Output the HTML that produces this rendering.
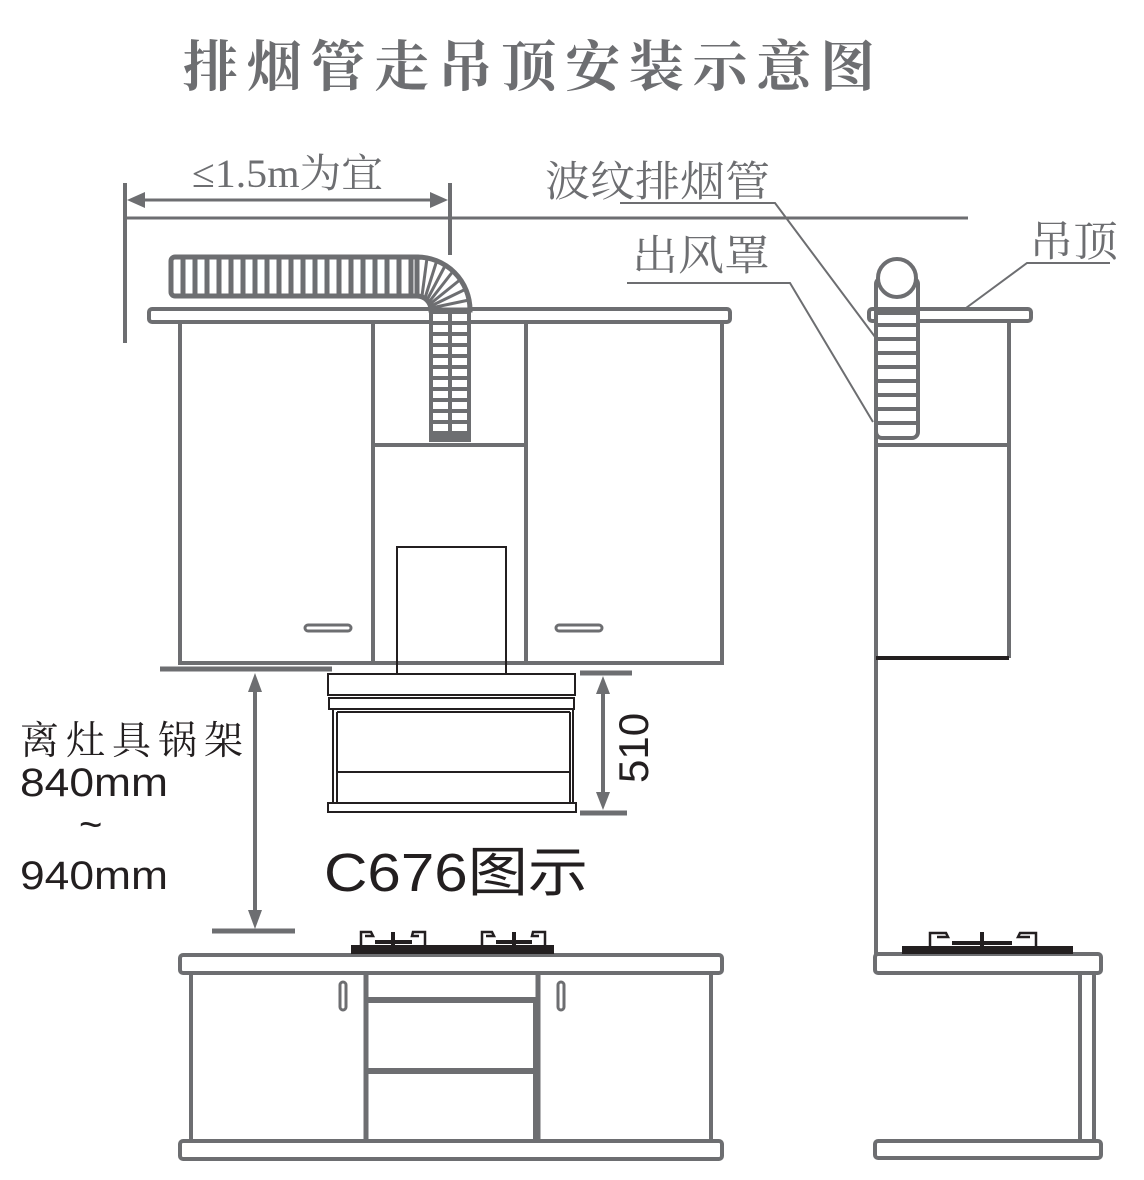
<!DOCTYPE html>
<html><head><meta charset="utf-8"><style>
html,body{margin:0;padding:0;background:#fff}
svg{display:block}
.s{font-family:"Liberation Serif","Noto Serif CJK SC",serif}
.a{font-family:"Liberation Sans","Noto Sans CJK SC",sans-serif}
</style></head><body>
<svg width="1144" height="1180" viewBox="0 0 1144 1180" xmlns="http://www.w3.org/2000/svg">
<g fill="#6d6e71">
<text x="183" y="86" font-size="55" class="s" font-weight="bold" textLength="692" lengthAdjust="spacing">排烟管走吊顶安装示意图</text>
<text x="192" y="187" font-size="40" class="s" textLength="191" lengthAdjust="spacingAndGlyphs">≤1.5m为宜</text>
<text x="545" y="196" font-size="42" class="s" textLength="225" lengthAdjust="spacingAndGlyphs">波纹排烟管</text>
<text x="632" y="270" font-size="42" class="s" textLength="138" lengthAdjust="spacingAndGlyphs">出风罩</text>
<text x="1029" y="256" font-size="42" class="s" textLength="89" lengthAdjust="spacingAndGlyphs">吊顶</text>
</g>
<g fill="#231f20">
<text x="20" y="754" font-size="39" class="s" textLength="223" lengthAdjust="spacing">离灶具锅架</text>
<text x="20" y="796" font-size="40" class="a" textLength="148" lengthAdjust="spacingAndGlyphs">840mm</text>
<text x="79" y="838" font-size="40" class="a">~</text>
<text x="20" y="889" font-size="40" class="a" textLength="148" lengthAdjust="spacingAndGlyphs">940mm</text>
<text x="324" y="891" font-size="54" class="a" textLength="264" lengthAdjust="spacingAndGlyphs">C676图示</text>
<text transform="translate(648,783) rotate(-90)" font-size="42" class="a">510</text>
</g>
<g stroke="#6d6e71" stroke-width="4" fill="none">
<line x1="125" y1="183" x2="125" y2="343"/>
<line x1="450" y1="183" x2="450" y2="255"/>
<line x1="135" y1="200" x2="440" y2="200" stroke-width="3"/>
<line x1="125" y1="218" x2="968" y2="218" stroke-width="3"/>
<polyline points="620,203 775,203 905,377" stroke-width="2"/>
<polyline points="627,283 790,283 873,422" stroke-width="2"/>
<polyline points="1110,263 1027,263 966,308" stroke-width="2"/>
<rect x="149" y="309" width="581" height="13" rx="3"/>
<rect x="180" y="322" width="542" height="341"/>
<line x1="373" y1="322" x2="373" y2="663"/>
<line x1="526" y1="322" x2="526" y2="663"/>
<line x1="373" y1="445" x2="526" y2="445"/>
<rect x="305" y="625" width="46" height="6" rx="3" stroke-width="3"/>
<rect x="556" y="625" width="46" height="6" rx="3" stroke-width="3"/>
<line x1="160" y1="669" x2="332" y2="669" stroke-width="5"/>
<line x1="580" y1="673" x2="632" y2="673" stroke-width="5"/>
<line x1="580" y1="813" x2="627" y2="813" stroke-width="5"/>
<line x1="212" y1="931" x2="295" y2="931" stroke-width="5"/>
<line x1="255" y1="690" x2="255" y2="912" stroke-width="4"/>
<line x1="603" y1="690" x2="603" y2="796" stroke-width="4"/>
</g>
<g fill="#6d6e71">
<polygon points="127,200 145,192 145,208"/>
<polygon points="448,200 430,192 430,208"/>
<polygon points="255,673 248,692 262,692"/>
<polygon points="255,929 248,910 262,910"/>
<polygon points="603,676 596,694 610,694"/>
<polygon points="603,810 596,792 610,792"/>
</g>
<g>
<rect x="171" y="257" width="250" height="39" rx="4" fill="#fff" stroke="#6d6e71" stroke-width="5"/>
<g stroke="#6d6e71" stroke-width="5">
<line x1="183" y1="257" x2="183" y2="296"/><line x1="195" y1="257" x2="195" y2="296"/><line x1="207" y1="257" x2="207" y2="296"/><line x1="219" y1="257" x2="219" y2="296"/><line x1="231" y1="257" x2="231" y2="296"/><line x1="243" y1="257" x2="243" y2="296"/><line x1="255" y1="257" x2="255" y2="296"/><line x1="267" y1="257" x2="267" y2="296"/><line x1="279" y1="257" x2="279" y2="296"/><line x1="291" y1="257" x2="291" y2="296"/><line x1="303" y1="257" x2="303" y2="296"/><line x1="315" y1="257" x2="315" y2="296"/><line x1="327" y1="257" x2="327" y2="296"/><line x1="339" y1="257" x2="339" y2="296"/><line x1="351" y1="257" x2="351" y2="296"/><line x1="363" y1="257" x2="363" y2="296"/><line x1="375" y1="257" x2="375" y2="296"/><line x1="387" y1="257" x2="387" y2="296"/><line x1="399" y1="257" x2="399" y2="296"/><line x1="411" y1="257" x2="411" y2="296"/>
</g>
<path d="M417,257 A53,53 0 0 1 470,310 L431,310 A14,14 0 0 0 417,296 Z" fill="#fff" stroke="#6d6e71" stroke-width="5"/>
<g stroke="#6d6e71" stroke-width="3">
<line x1="422" y1="296" x2="427" y2="258"/><line x1="425" y1="298" x2="437" y2="260"/><line x1="427" y1="300" x2="446" y2="264"/><line x1="429" y1="302" x2="454" y2="270"/><line x1="430" y1="304" x2="461" y2="279"/><line x1="431" y1="306" x2="466" y2="289"/><line x1="431" y1="308" x2="469" y2="300"/>
</g>
<rect x="429" y="310" width="42" height="132" fill="#6d6e71"/>
<g fill="#fff">
<rect x="433" y="314" width="15" height="7"/><rect x="452" y="314" width="15" height="7"/>
<rect x="433" y="325" width="15" height="7"/><rect x="452" y="325" width="15" height="7"/>
<rect x="433" y="336" width="15" height="7"/><rect x="452" y="336" width="15" height="7"/>
<rect x="433" y="347" width="15" height="7"/><rect x="452" y="347" width="15" height="7"/>
<rect x="433" y="358" width="15" height="7"/><rect x="452" y="358" width="15" height="7"/>
<rect x="433" y="369" width="15" height="7"/><rect x="452" y="369" width="15" height="7"/>
<rect x="433" y="380" width="15" height="7"/><rect x="452" y="380" width="15" height="7"/>
<rect x="433" y="391" width="15" height="7"/><rect x="452" y="391" width="15" height="7"/>
<rect x="433" y="402" width="15" height="7"/><rect x="452" y="402" width="15" height="7"/>
<rect x="433" y="413" width="15" height="7"/><rect x="452" y="413" width="15" height="7"/>
<rect x="433" y="424" width="15" height="7"/><rect x="452" y="424" width="15" height="7"/>
</g>
</g>
<g stroke="#231f20" stroke-width="2" fill="none">
<rect x="397" y="547" width="109" height="127"/>
<rect x="328" y="674" width="247" height="21" fill="#fff"/>
<rect x="329" y="698" width="245" height="11"/>
<rect x="333" y="709" width="240" height="94"/>
<line x1="337" y1="712" x2="570" y2="712"/>
<line x1="337" y1="772" x2="570" y2="772"/>
<line x1="337" y1="712" x2="337" y2="803"/>
<line x1="570" y1="712" x2="570" y2="803"/>
<rect x="328" y="803" width="248" height="9"/>
</g>
<g stroke="#6d6e71" stroke-width="4" fill="none">
<rect x="180" y="955" width="542" height="18" rx="3"/>
<line x1="191" y1="973" x2="191" y2="1141"/>
<line x1="711" y1="973" x2="711" y2="1141"/>
<line x1="366" y1="973" x2="366" y2="1141" stroke-width="5"/>
<line x1="538" y1="973" x2="538" y2="1141" stroke-width="5"/>
<line x1="366" y1="1000" x2="538" y2="1000" stroke-width="6"/>
<line x1="366" y1="1071" x2="535" y2="1071" stroke-width="6"/>
<line x1="535" y1="1000" x2="535" y2="1141"/>
<rect x="180" y="1141" width="542" height="18" rx="3"/>
<rect x="340" y="982" width="6" height="28" rx="3" stroke-width="3"/>
<rect x="558" y="982" width="6" height="28" rx="3" stroke-width="3"/>
</g>
<g fill="#231f20"><rect x="351" y="945" width="203" height="9"/></g>
<g stroke="#231f20" stroke-width="2.5" fill="none">
<path d="M361,946 V932 H371 L373,936 H365"/><line x1="393" y1="932" x2="393" y2="946" stroke-width="4"/><line x1="375" y1="942" x2="412" y2="942" stroke-width="4"/><path d="M425,946 V932 H413 L412,936 H419"/>
<path d="M482,946 V932 H492 L494,936 H486"/><line x1="514" y1="932" x2="514" y2="946" stroke-width="4"/><line x1="496" y1="942" x2="532" y2="942" stroke-width="4"/><path d="M545,946 V932 H533 L532,936 H539"/>
</g>
<g stroke="#6d6e71" stroke-width="4" fill="none">
<rect x="869" y="309" width="162" height="12" rx="3"/>
<line x1="876" y1="321" x2="876" y2="955"/>
<line x1="1009" y1="321" x2="1009" y2="658"/>
<line x1="876" y1="445" x2="1009" y2="445"/>
<rect x="875" y="954" width="226" height="19" rx="3"/>
<line x1="1080" y1="973" x2="1080" y2="1141"/>
<line x1="1094" y1="973" x2="1094" y2="1141"/>
<rect x="875" y="1141" width="226" height="17" rx="3"/>
</g>
<line x1="876" y1="658" x2="1009" y2="658" stroke="#231f20" stroke-width="4"/>
<rect x="876" y="278" width="42" height="160" rx="6" fill="#fff" stroke="#6d6e71" stroke-width="4"/>
<circle cx="897" cy="278" r="19" fill="#fff" stroke="#6d6e71" stroke-width="4"/>
<g stroke="#6d6e71" stroke-width="4">
<line x1="878" y1="311" x2="916" y2="311" stroke-width="8"/>
<line x1="878" y1="325" x2="916" y2="325"/><line x1="878" y1="339" x2="916" y2="339"/><line x1="878" y1="353" x2="916" y2="353"/><line x1="878" y1="367" x2="916" y2="367"/><line x1="878" y1="381" x2="916" y2="381"/><line x1="878" y1="395" x2="916" y2="395"/><line x1="878" y1="409" x2="916" y2="409"/><line x1="878" y1="423" x2="916" y2="423"/>
</g>
<g fill="#231f20"><rect x="902" y="946" width="171" height="8"/></g>
<g stroke="#231f20" stroke-width="2.5" fill="none">
<path d="M930,946 V933 H946 L948,937 H937"/><line x1="982" y1="932" x2="982" y2="946" stroke-width="4"/><line x1="952" y1="943" x2="1012" y2="943" stroke-width="4"/><path d="M1036,946 V933 H1020 L1018,937 H1030"/>
</g>
</svg>
</body></html>
